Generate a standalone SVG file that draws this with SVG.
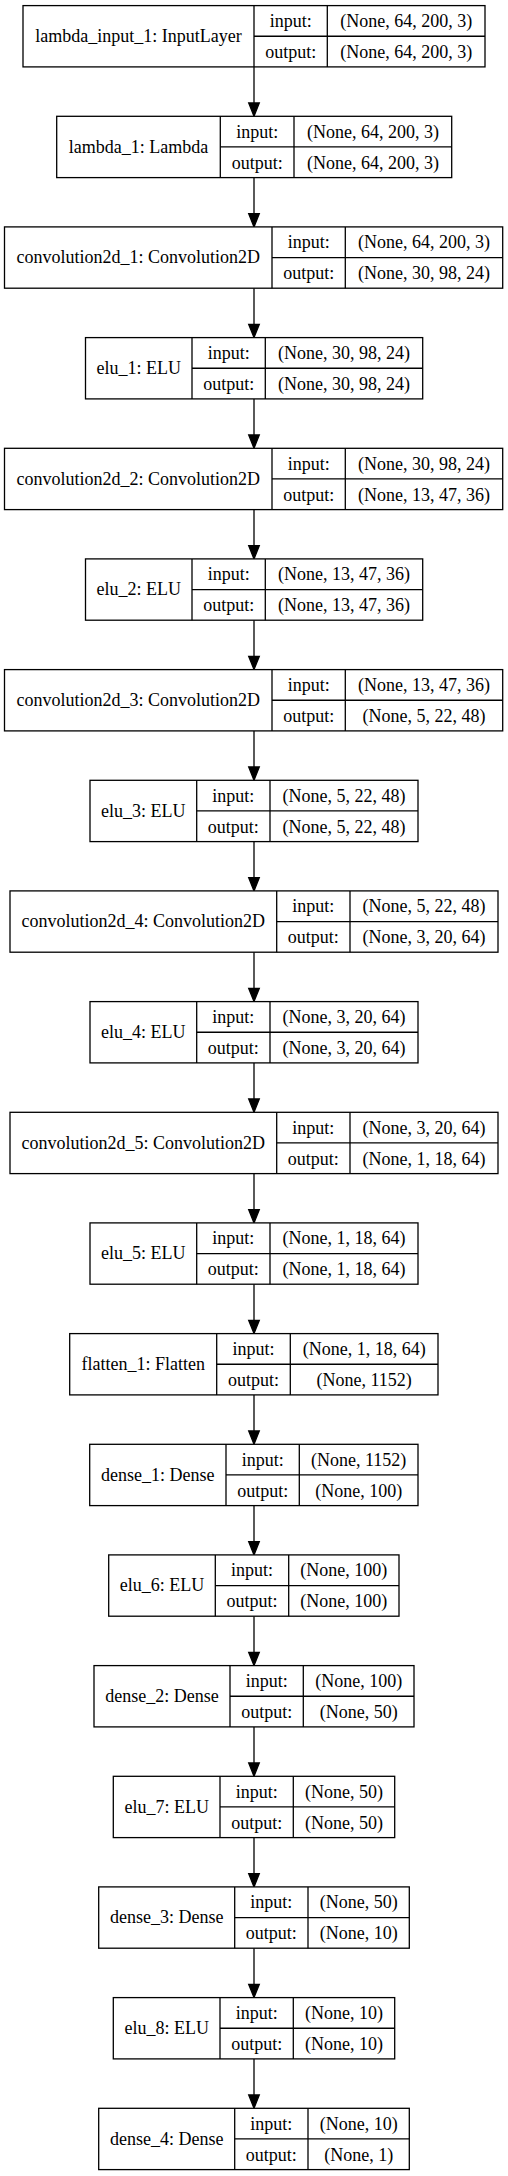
<svg xmlns="http://www.w3.org/2000/svg" width="508" height="2176" viewBox="0 0 508 2176">
<style>
.bx{fill:#fff;stroke:#000;stroke-width:1.3}
.dv{stroke:#000;stroke-width:1.3}
text{font-family:"Liberation Serif","Times New Roman",serif;font-size:18px;fill:#000;text-anchor:middle}
.e{stroke:#000;stroke-width:1.3;fill:none}
.ah{fill:#000;stroke:#000;stroke-width:1.3}
</style>
<rect width="508" height="2176" fill="#fff"/>
<g id="connectors">
<line class="e" x1="254" y1="66.9" x2="254" y2="103"/><polygon class="ah" points="254,116.3 248.7,103 259.3,103"/>
<line class="e" x1="254" y1="177.6" x2="254" y2="213.6"/><polygon class="ah" points="254,226.9 248.7,213.6 259.3,213.6"/>
<line class="e" x1="254" y1="288.2" x2="254" y2="324.3"/><polygon class="ah" points="254,337.6 248.7,324.3 259.3,324.3"/>
<line class="e" x1="254" y1="398.9" x2="254" y2="435"/><polygon class="ah" points="254,448.3 248.7,435 259.3,435"/>
<line class="e" x1="254" y1="509.6" x2="254" y2="545.6"/><polygon class="ah" points="254,558.9 248.7,545.6 259.3,545.6"/>
<line class="e" x1="254" y1="620.2" x2="254" y2="656.3"/><polygon class="ah" points="254,669.6 248.7,656.3 259.3,656.3"/>
<line class="e" x1="254" y1="730.9" x2="254" y2="767"/><polygon class="ah" points="254,780.3 248.7,767 259.3,767"/>
<line class="e" x1="254" y1="841.6" x2="254" y2="877.6"/><polygon class="ah" points="254,890.9 248.7,877.6 259.3,877.6"/>
<line class="e" x1="254" y1="952.2" x2="254" y2="988.3"/><polygon class="ah" points="254,1001.6 248.7,988.3 259.3,988.3"/>
<line class="e" x1="254" y1="1062.9" x2="254" y2="1099"/><polygon class="ah" points="254,1112.3 248.7,1099 259.3,1099"/>
<line class="e" x1="254" y1="1173.6" x2="254" y2="1209.6"/><polygon class="ah" points="254,1222.9 248.7,1209.6 259.3,1209.6"/>
<line class="e" x1="254" y1="1284.2" x2="254" y2="1320.3"/><polygon class="ah" points="254,1333.6 248.7,1320.3 259.3,1320.3"/>
<line class="e" x1="254" y1="1394.9" x2="254" y2="1431"/><polygon class="ah" points="254,1444.3 248.7,1431 259.3,1431"/>
<line class="e" x1="254" y1="1505.6" x2="254" y2="1541.6"/><polygon class="ah" points="254,1554.9 248.7,1541.6 259.3,1541.6"/>
<line class="e" x1="254" y1="1616.2" x2="254" y2="1652.3"/><polygon class="ah" points="254,1665.6 248.7,1652.3 259.3,1652.3"/>
<line class="e" x1="254" y1="1726.9" x2="254" y2="1763"/><polygon class="ah" points="254,1776.3 248.7,1763 259.3,1763"/>
<line class="e" x1="254" y1="1837.6" x2="254" y2="1873.6"/><polygon class="ah" points="254,1886.9 248.7,1873.6 259.3,1873.6"/>
<line class="e" x1="254" y1="1948.2" x2="254" y2="1984.3"/><polygon class="ah" points="254,1997.6 248.7,1984.3 259.3,1984.3"/>
<line class="e" x1="254" y1="2058.9" x2="254" y2="2095"/><polygon class="ah" points="254,2108.3 248.7,2095 259.3,2095"/>
</g>

<g id="lambda_input_1" transform="translate(0,5.6)">
<rect class="bx" x="23" y="0" width="462" height="61.3"/>
<line class="dv" x1="254" y1="0" x2="254" y2="61.3"/><line class="dv" x1="327.3" y1="0" x2="327.3" y2="61.3"/><line class="dv" x1="254" y1="30.65" x2="485" y2="30.65"/>
<text x="138.5" y="36.3">lambda_input_1: InputLayer</text>
<text x="290.7" y="21.3">input:</text><text x="290.7" y="52.3">output:</text>
<text x="406.2" y="21.3">(None, 64, 200, 3)</text><text x="406.2" y="52.3">(None, 64, 200, 3)</text>
</g>

<g id="lambda_1" transform="translate(0,116.3)">
<rect class="bx" x="56.7" y="0" width="395" height="61.3"/>
<line class="dv" x1="220.3" y1="0" x2="220.3" y2="61.3"/><line class="dv" x1="294" y1="0" x2="294" y2="61.3"/><line class="dv" x1="220.3" y1="30.65" x2="451.7" y2="30.65"/>
<text x="138.5" y="36.3">lambda_1: Lambda</text>
<text x="257.2" y="21.3">input:</text><text x="257.2" y="52.3">output:</text>
<text x="372.9" y="21.3">(None, 64, 200, 3)</text><text x="372.9" y="52.3">(None, 64, 200, 3)</text>
</g>

<g id="convolution2d_1" transform="translate(0,226.9)">
<rect class="bx" x="4.5" y="0" width="498.2" height="61.3"/>
<line class="dv" x1="272" y1="0" x2="272" y2="61.3"/><line class="dv" x1="345.3" y1="0" x2="345.3" y2="61.3"/><line class="dv" x1="272" y1="30.65" x2="502.7" y2="30.65"/>
<text x="138.3" y="36.3">convolution2d_1: Convolution2D</text>
<text x="308.7" y="21.3">input:</text><text x="308.7" y="52.3">output:</text>
<text x="424" y="21.3">(None, 64, 200, 3)</text><text x="424" y="52.3">(None, 30, 98, 24)</text>
</g>

<g id="elu_1" transform="translate(0,337.6)">
<rect class="bx" x="85.5" y="0" width="337.2" height="61.3"/>
<line class="dv" x1="192" y1="0" x2="192" y2="61.3"/><line class="dv" x1="265.3" y1="0" x2="265.3" y2="61.3"/><line class="dv" x1="192" y1="30.65" x2="422.7" y2="30.65"/>
<text x="138.8" y="36.3">elu_1: ELU</text>
<text x="228.7" y="21.3">input:</text><text x="228.7" y="52.3">output:</text>
<text x="344" y="21.3">(None, 30, 98, 24)</text><text x="344" y="52.3">(None, 30, 98, 24)</text>
</g>

<g id="convolution2d_2" transform="translate(0,448.3)">
<rect class="bx" x="4.5" y="0" width="498.2" height="61.3"/>
<line class="dv" x1="272" y1="0" x2="272" y2="61.3"/><line class="dv" x1="345.3" y1="0" x2="345.3" y2="61.3"/><line class="dv" x1="272" y1="30.65" x2="502.7" y2="30.65"/>
<text x="138.3" y="36.3">convolution2d_2: Convolution2D</text>
<text x="308.7" y="21.3">input:</text><text x="308.7" y="52.3">output:</text>
<text x="424" y="21.3">(None, 30, 98, 24)</text><text x="424" y="52.3">(None, 13, 47, 36)</text>
</g>

<g id="elu_2" transform="translate(0,558.9)">
<rect class="bx" x="85.5" y="0" width="337.2" height="61.3"/>
<line class="dv" x1="192" y1="0" x2="192" y2="61.3"/><line class="dv" x1="265.3" y1="0" x2="265.3" y2="61.3"/><line class="dv" x1="192" y1="30.65" x2="422.7" y2="30.65"/>
<text x="138.8" y="36.3">elu_2: ELU</text>
<text x="228.7" y="21.3">input:</text><text x="228.7" y="52.3">output:</text>
<text x="344" y="21.3">(None, 13, 47, 36)</text><text x="344" y="52.3">(None, 13, 47, 36)</text>
</g>

<g id="convolution2d_3" transform="translate(0,669.6)">
<rect class="bx" x="4.5" y="0" width="498.2" height="61.3"/>
<line class="dv" x1="272" y1="0" x2="272" y2="61.3"/><line class="dv" x1="345.3" y1="0" x2="345.3" y2="61.3"/><line class="dv" x1="272" y1="30.65" x2="502.7" y2="30.65"/>
<text x="138.3" y="36.3">convolution2d_3: Convolution2D</text>
<text x="308.7" y="21.3">input:</text><text x="308.7" y="52.3">output:</text>
<text x="424" y="21.3">(None, 13, 47, 36)</text><text x="424" y="52.3">(None, 5, 22, 48)</text>
</g>

<g id="elu_3" transform="translate(0,780.3)">
<rect class="bx" x="90" y="0" width="328" height="61.3"/>
<line class="dv" x1="196.7" y1="0" x2="196.7" y2="61.3"/><line class="dv" x1="270" y1="0" x2="270" y2="61.3"/><line class="dv" x1="196.7" y1="30.65" x2="418" y2="30.65"/>
<text x="143.3" y="36.3">elu_3: ELU</text>
<text x="233.3" y="21.3">input:</text><text x="233.3" y="52.3">output:</text>
<text x="344" y="21.3">(None, 5, 22, 48)</text><text x="344" y="52.3">(None, 5, 22, 48)</text>
</g>

<g id="convolution2d_4" transform="translate(0,890.9)">
<rect class="bx" x="10" y="0" width="488" height="61.3"/>
<line class="dv" x1="276.7" y1="0" x2="276.7" y2="61.3"/><line class="dv" x1="350" y1="0" x2="350" y2="61.3"/><line class="dv" x1="276.7" y1="30.65" x2="498" y2="30.65"/>
<text x="143.3" y="36.3">convolution2d_4: Convolution2D</text>
<text x="313.3" y="21.3">input:</text><text x="313.3" y="52.3">output:</text>
<text x="424" y="21.3">(None, 5, 22, 48)</text><text x="424" y="52.3">(None, 3, 20, 64)</text>
</g>

<g id="elu_4" transform="translate(0,1001.6)">
<rect class="bx" x="90" y="0" width="328" height="61.3"/>
<line class="dv" x1="196.7" y1="0" x2="196.7" y2="61.3"/><line class="dv" x1="270" y1="0" x2="270" y2="61.3"/><line class="dv" x1="196.7" y1="30.65" x2="418" y2="30.65"/>
<text x="143.3" y="36.3">elu_4: ELU</text>
<text x="233.3" y="21.3">input:</text><text x="233.3" y="52.3">output:</text>
<text x="344" y="21.3">(None, 3, 20, 64)</text><text x="344" y="52.3">(None, 3, 20, 64)</text>
</g>

<g id="convolution2d_5" transform="translate(0,1112.3)">
<rect class="bx" x="10" y="0" width="488" height="61.3"/>
<line class="dv" x1="276.7" y1="0" x2="276.7" y2="61.3"/><line class="dv" x1="350" y1="0" x2="350" y2="61.3"/><line class="dv" x1="276.7" y1="30.65" x2="498" y2="30.65"/>
<text x="143.3" y="36.3">convolution2d_5: Convolution2D</text>
<text x="313.3" y="21.3">input:</text><text x="313.3" y="52.3">output:</text>
<text x="424" y="21.3">(None, 3, 20, 64)</text><text x="424" y="52.3">(None, 1, 18, 64)</text>
</g>

<g id="elu_5" transform="translate(0,1222.9)">
<rect class="bx" x="90" y="0" width="328" height="61.3"/>
<line class="dv" x1="196.7" y1="0" x2="196.7" y2="61.3"/><line class="dv" x1="270" y1="0" x2="270" y2="61.3"/><line class="dv" x1="196.7" y1="30.65" x2="418" y2="30.65"/>
<text x="143.3" y="36.3">elu_5: ELU</text>
<text x="233.3" y="21.3">input:</text><text x="233.3" y="52.3">output:</text>
<text x="344" y="21.3">(None, 1, 18, 64)</text><text x="344" y="52.3">(None, 1, 18, 64)</text>
</g>

<g id="flatten_1" transform="translate(0,1333.6)">
<rect class="bx" x="69.7" y="0" width="368.3" height="61.3"/>
<line class="dv" x1="216.7" y1="0" x2="216.7" y2="61.3"/><line class="dv" x1="290.3" y1="0" x2="290.3" y2="61.3"/><line class="dv" x1="216.7" y1="30.65" x2="438" y2="30.65"/>
<text x="143.2" y="36.3">flatten_1: Flatten</text>
<text x="253.5" y="21.3">input:</text><text x="253.5" y="52.3">output:</text>
<text x="364.2" y="21.3">(None, 1, 18, 64)</text><text x="364.2" y="52.3">(None, 1152)</text>
</g>

<g id="dense_1" transform="translate(0,1444.3)">
<rect class="bx" x="89.7" y="0" width="328.3" height="61.3"/>
<line class="dv" x1="226" y1="0" x2="226" y2="61.3"/><line class="dv" x1="299.3" y1="0" x2="299.3" y2="61.3"/><line class="dv" x1="226" y1="30.65" x2="418" y2="30.65"/>
<text x="157.8" y="36.3">dense_1: Dense</text>
<text x="262.7" y="21.3">input:</text><text x="262.7" y="52.3">output:</text>
<text x="358.7" y="21.3">(None, 1152)</text><text x="358.7" y="52.3">(None, 100)</text>
</g>

<g id="elu_6" transform="translate(0,1554.9)">
<rect class="bx" x="108.7" y="0" width="290.3" height="61.3"/>
<line class="dv" x1="215.3" y1="0" x2="215.3" y2="61.3"/><line class="dv" x1="288.7" y1="0" x2="288.7" y2="61.3"/><line class="dv" x1="215.3" y1="30.65" x2="399" y2="30.65"/>
<text x="162" y="36.3">elu_6: ELU</text>
<text x="252" y="21.3">input:</text><text x="252" y="52.3">output:</text>
<text x="343.8" y="21.3">(None, 100)</text><text x="343.8" y="52.3">(None, 100)</text>
</g>

<g id="dense_2" transform="translate(0,1665.6)">
<rect class="bx" x="94" y="0" width="320" height="61.3"/>
<line class="dv" x1="230" y1="0" x2="230" y2="61.3"/><line class="dv" x1="303.3" y1="0" x2="303.3" y2="61.3"/><line class="dv" x1="230" y1="30.65" x2="414" y2="30.65"/>
<text x="162" y="36.3">dense_2: Dense</text>
<text x="266.7" y="21.3">input:</text><text x="266.7" y="52.3">output:</text>
<text x="358.7" y="21.3">(None, 100)</text><text x="358.7" y="52.3">(None, 50)</text>
</g>

<g id="elu_7" transform="translate(0,1776.3)">
<rect class="bx" x="113.3" y="0" width="281.4" height="61.3"/>
<line class="dv" x1="220" y1="0" x2="220" y2="61.3"/><line class="dv" x1="293.3" y1="0" x2="293.3" y2="61.3"/><line class="dv" x1="220" y1="30.65" x2="394.7" y2="30.65"/>
<text x="166.7" y="36.3">elu_7: ELU</text>
<text x="256.7" y="21.3">input:</text><text x="256.7" y="52.3">output:</text>
<text x="344" y="21.3">(None, 50)</text><text x="344" y="52.3">(None, 50)</text>
</g>

<g id="dense_3" transform="translate(0,1886.9)">
<rect class="bx" x="98.7" y="0" width="310.6" height="61.3"/>
<line class="dv" x1="234.7" y1="0" x2="234.7" y2="61.3"/><line class="dv" x1="308" y1="0" x2="308" y2="61.3"/><line class="dv" x1="234.7" y1="30.65" x2="409.3" y2="30.65"/>
<text x="166.7" y="36.3">dense_3: Dense</text>
<text x="271.3" y="21.3">input:</text><text x="271.3" y="52.3">output:</text>
<text x="358.7" y="21.3">(None, 50)</text><text x="358.7" y="52.3">(None, 10)</text>
</g>

<g id="elu_8" transform="translate(0,1997.6)">
<rect class="bx" x="113.3" y="0" width="281.4" height="61.3"/>
<line class="dv" x1="220" y1="0" x2="220" y2="61.3"/><line class="dv" x1="293.3" y1="0" x2="293.3" y2="61.3"/><line class="dv" x1="220" y1="30.65" x2="394.7" y2="30.65"/>
<text x="166.7" y="36.3">elu_8: ELU</text>
<text x="256.7" y="21.3">input:</text><text x="256.7" y="52.3">output:</text>
<text x="344" y="21.3">(None, 10)</text><text x="344" y="52.3">(None, 10)</text>
</g>

<g id="dense_4" transform="translate(0,2108.3)">
<rect class="bx" x="98.7" y="0" width="310.6" height="61.3"/>
<line class="dv" x1="234.7" y1="0" x2="234.7" y2="61.3"/><line class="dv" x1="308" y1="0" x2="308" y2="61.3"/><line class="dv" x1="234.7" y1="30.65" x2="409.3" y2="30.65"/>
<text x="166.7" y="36.3">dense_4: Dense</text>
<text x="271.3" y="21.3">input:</text><text x="271.3" y="52.3">output:</text>
<text x="358.7" y="21.3">(None, 10)</text><text x="358.7" y="52.3">(None, 1)</text>
</g>
</svg>
